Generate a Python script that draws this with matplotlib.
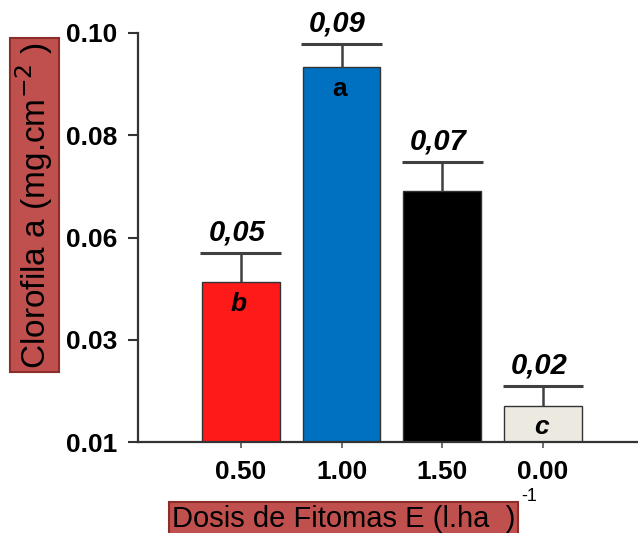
import matplotlib
matplotlib.use("Agg")
import matplotlib.pyplot as plt
import numpy as np

plt.rcParams['font.family'] = ['Liberation Sans', 'DejaVu Sans']

# data
doses = ['0.50', '1.00', '1.50', '0.00']
means = [0.0452, 0.0925, 0.0652, 0.0180]
err_up = [0.0064, 0.0051, 0.0064, 0.0043]
value_labels = ['0,05', '0,09', '0,07', '0,02']
letters = ['b', 'a', '', 'c']
colors = ['#FF1A1A', '#0070C0', '#000000', '#ECEAE0']

yticks = [0.01, 0.0325, 0.055, 0.0775, 0.10]
ytick_labels = ['0.01', '0.03', '0.06', '0.08', '0.10']

fig = plt.figure(figsize=(6.38, 5.33), dpi=100)
ax = fig.add_axes([0.2163, 0.1707, 0.7817, 0.7674])

x = np.arange(1, len(doses) + 1)
w = 0.77
ax.bar(x, means, width=w, color=colors, edgecolor='#333333', linewidth=1.0, zorder=2)

ecol = '#404040'
tops = np.array(means) + np.array(err_up)
ax.vlines(x, means, tops, color=ecol, linewidth=1.8, zorder=3)
ax.hlines(tops, x - 0.40, x + 0.40, color=ecol, linewidth=2.2, zorder=3)

for xi, t, lab in zip(x, tops, value_labels):
    ax.text(xi - 0.04, t + 0.0015, lab, ha='center', va='bottom',
            fontsize=21, fontweight='bold', style='italic')

for xi, m, let in zip(x, means, letters):
    if not let:
        continue
    st = 'normal' if let == 'a' else 'italic'
    ax.text(xi - 0.02, m - 0.0048, let, ha='center', va='center',
            fontsize=19, fontweight='bold', style=st)

ax.set_xlim(-0.02, 4.93)
ax.set_ylim(0.01, 0.10)
ax.set_yticks(yticks)
ax.set_yticklabels(ytick_labels, fontsize=19, fontweight='bold')
ax.set_xticks(x)
ax.set_xticklabels(doses, fontsize=19, fontweight='bold')

for side in ['top', 'right']:
    ax.spines[side].set_visible(False)
for side in ['left', 'bottom']:
    ax.spines[side].set_color('#333333')
    ax.spines[side].set_linewidth(1.6)

ax.tick_params(axis='y', direction='out', length=7, width=1.5, color='#333333', pad=8)
ax.tick_params(axis='x', direction='out', length=4, width=1.2, color='#555555', pad=9)

box = dict(boxstyle='square,pad=0.1', facecolor='#C0504D', edgecolor='#8C2D2A', linewidth=1.5)
fig.text(0.054, 0.615, 'Clorofila a (mg.cm$^{-2}$ )', rotation=90, ha='center', va='center',
         fontsize=24, bbox=box)
fig.text(0.538, 0.026, 'Dosis de Fitomas E (l.ha  )', ha='center', va='center',
         fontsize=21, bbox=box)
fig.text(0.83, 0.069, '-1', ha='center', va='center', fontsize=13)

fig.savefig('out.png', dpi=100)
